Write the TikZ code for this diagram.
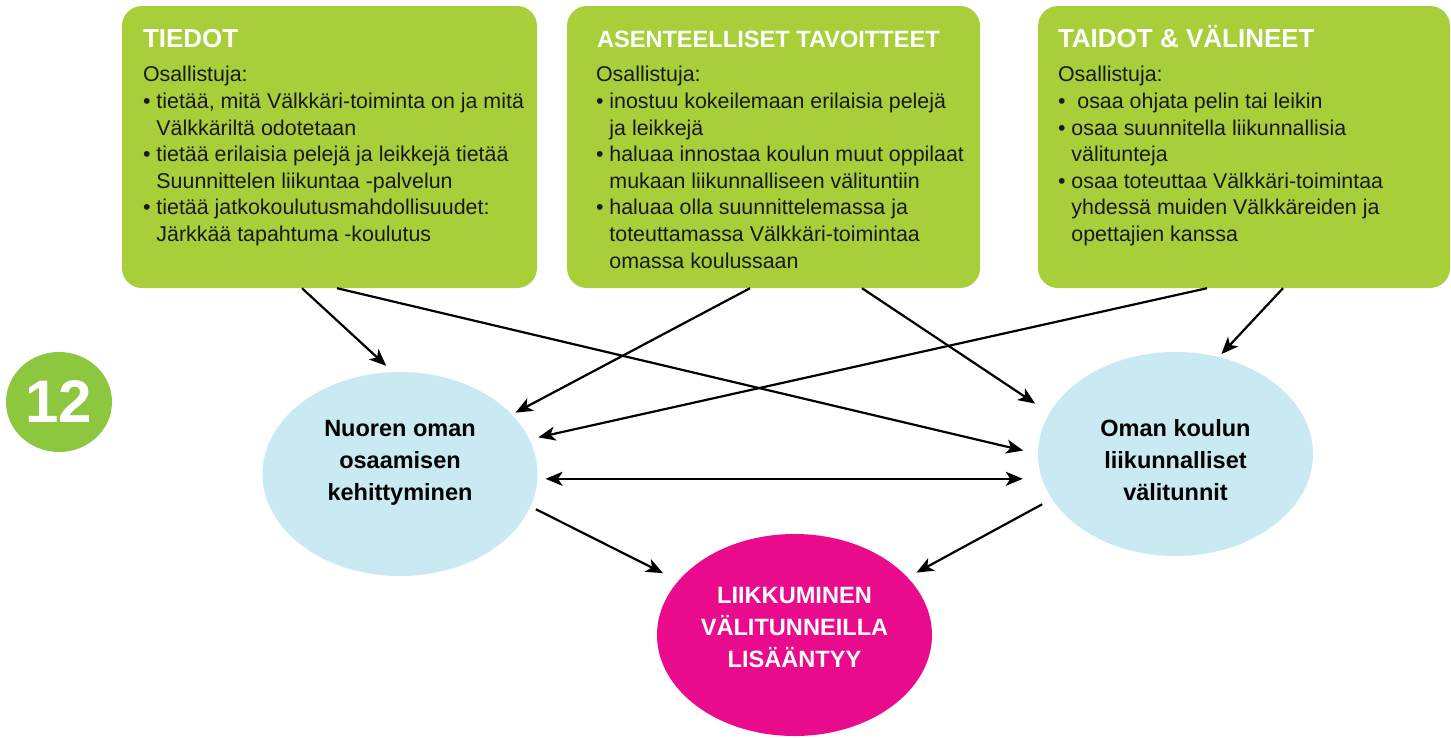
\documentclass[tikz,border=0pt]{standalone}
\usepackage{fontspec}
\setmainfont{Liberation Sans}
\usetikzlibrary{shapes.geometric,arrows.meta}

\definecolor{laatikkovihrea}{RGB}{168,206,58}
\definecolor{numerovihrea}{RGB}{141,198,63}
\definecolor{pallosininen}{RGB}{201,233,243}
\definecolor{pinkki}{RGB}{234,11,140}

\newcommand{\bl}{\textbullet\ }
\newcommand{\ind}{\hphantom{\textbullet\ }}

\tikzset{
  laatikko/.style={rectangle, rounded corners=20pt, fill=laatikkovihrea,
    minimum height=282pt, inner sep=0pt},
  otsikko/.style={anchor=base west, inner sep=0pt, text=white,
    font=\bfseries\fontsize{26}{30}\selectfont},
  teksti/.style={anchor=base west, inner sep=0pt, text=black!90,
    font=\fontsize{21.4}{26.6}\selectfont},
  pallo/.style={ellipse, fill=pallosininen, minimum width=275pt,
    minimum height=204pt, inner sep=0pt},
  pallonteksti/.style={anchor=base, inner sep=0pt,
    font=\bfseries\fontsize{23.5}{32}\selectfont},
  nuoli/.style={->, line width=2.2pt},
  >={Stealth[length=17pt,width=14pt,inset=4.5pt]}
}

\begin{document}
\begin{tikzpicture}[x=1pt, y=-1pt]
    \useasboundingbox (0,0) rectangle (1451,737);
    % Laatikot
    \node[laatikko, minimum width=415pt] (tiedot) at (329.5,147) {};
    \node[laatikko, minimum width=413pt] (asenne) at (773.5,147) {};
    \node[laatikko, minimum width=412pt] (taidot) at (1244,147) {};
    \node[otsikko] (tiedot-o) at ([xshift=21pt,yshift=-42pt]tiedot.north west) {TIEDOT};
    \node[otsikko, font=\bfseries\fontsize{23.6}{30}\selectfont] (asenne-o)
        at ([xshift=30pt,yshift=-42pt]asenne.north west) {ASENTEELLISET TAVOITTEET};
    \node[otsikko] (taidot-o) at ([xshift=20pt,yshift=-42pt]taidot.north west) {TAIDOT \& VÄLINEET};
    \node[teksti] (tiedot-t) at ([xshift=21pt,yshift=-76pt]tiedot.north west) {%
        \begin{tabular}[t]{@{}l@{}}
        Osallistuja:\\
        \bl tietää, mitä Välkkäri-toiminta on ja mitä\\
        \ind Välkkäriltä odotetaan\\
        \bl tietää erilaisia pelejä ja leikkejä tietää\\
        \ind Suunnittelen liikuntaa -palvelun\\
        \bl tietää jatkokoulutusmahdollisuudet:\\
        \ind Järkkää tapahtuma -koulutus
        \end{tabular}};
    \node[teksti] (asenne-t) at ([xshift=29pt,yshift=-76pt]asenne.north west) {%
        \begin{tabular}[t]{@{}l@{}}
        Osallistuja:\\
        \bl inostuu kokeilemaan erilaisia pelejä\\
        \ind ja leikkejä\\
        \bl haluaa innostaa koulun muut oppilaat\\
        \ind mukaan liikunnalliseen välituntiin\\
        \bl haluaa olla suunnittelemassa ja\\
        \ind toteuttamassa Välkkäri-toimintaa\\
        \ind omassa koulussaan
        \end{tabular}};
    \node[teksti] (taidot-t) at ([xshift=20pt,yshift=-76pt]taidot.north west) {%
        \begin{tabular}[t]{@{}l@{}}
        Osallistuja:\\
        \bl\ osaa ohjata pelin tai leikin\\
        \bl osaa suunnitella liikunnallisia\\
        \ind välitunteja\\
        \bl osaa toteuttaa Välkkäri-toimintaa\\
        \ind yhdessä muiden Välkkäreiden ja\\
        \ind opettajien kanssa
        \end{tabular}};
    % Numero
    \node[ellipse, fill=numerovihrea, minimum width=106pt, minimum height=100pt,
        inner sep=0pt, text=white, font=\bfseries\fontsize{60}{60}\selectfont] (nro) at (59,402) {12};
    % Pallot
    \node[pallo] (nuoren) at (400,474) {};
    \node[pallo] (oman) at (1175.5,454) {};
    \node[pallo, fill=pinkki, minimum height=202pt] (liikk) at (794.5,635) {};
    \node[pallonteksti] (nuoren-t) at ([yshift=38pt]nuoren.center)
        {\begin{tabular}[t]{@{}c@{}}Nuoren oman\\osaamisen\\kehittyminen\end{tabular}};
    \node[pallonteksti] (oman-t) at ([yshift=18pt]oman.center)
        {\begin{tabular}[t]{@{}c@{}}Oman koulun\\liikunnalliset\\välitunnit\end{tabular}};
    \node[pallonteksti, text=white, font=\bfseries\fontsize{23.6}{32}\selectfont] (liikk-t)
        at ([yshift=32pt]liikk.center)
        {\begin{tabular}[t]{@{}c@{}}LIIKKUMINEN\\VÄLITUNNEILLA\\LISÄÄNTYY\end{tabular}};
    % Nuolet laatikoista
    \draw[nuoli, shorten >=9pt] ([xshift=-27.5pt]tiedot.south) -- (nuoren.94);
    \draw[nuoli, shorten >=15pt] ([xshift=7.5pt]tiedot.south) -- (oman.180);
    \draw[nuoli, shorten >=4pt] ([xshift=-23.5pt]asenne.south) -- (nuoren.28);
    \draw[nuoli, shorten >=17pt] ([xshift=88.5pt]asenne.south) -- (oman.162);
    \draw[nuoli, shorten >=9pt] ([xshift=-37pt]taidot.south) -- (nuoren.15);
    \draw[nuoli, shorten >=4pt] ([xshift=39pt]taidot.south) -- (oman.66);
    % Nuolet pallojen välillä
    \draw[nuoli, <->, shorten <=8pt, shorten >=15pt] (nuoren.-2) -- (nuoren.-2 -| oman.west);
    \draw[nuoli, shorten <=6pt, shorten >=17pt] (nuoren.-14) -- (liikk.155);
    \draw[nuoli, shorten <=11pt, shorten >=10pt] (oman.200) -- (liikk.27);
\end{tikzpicture}
\end{document}
